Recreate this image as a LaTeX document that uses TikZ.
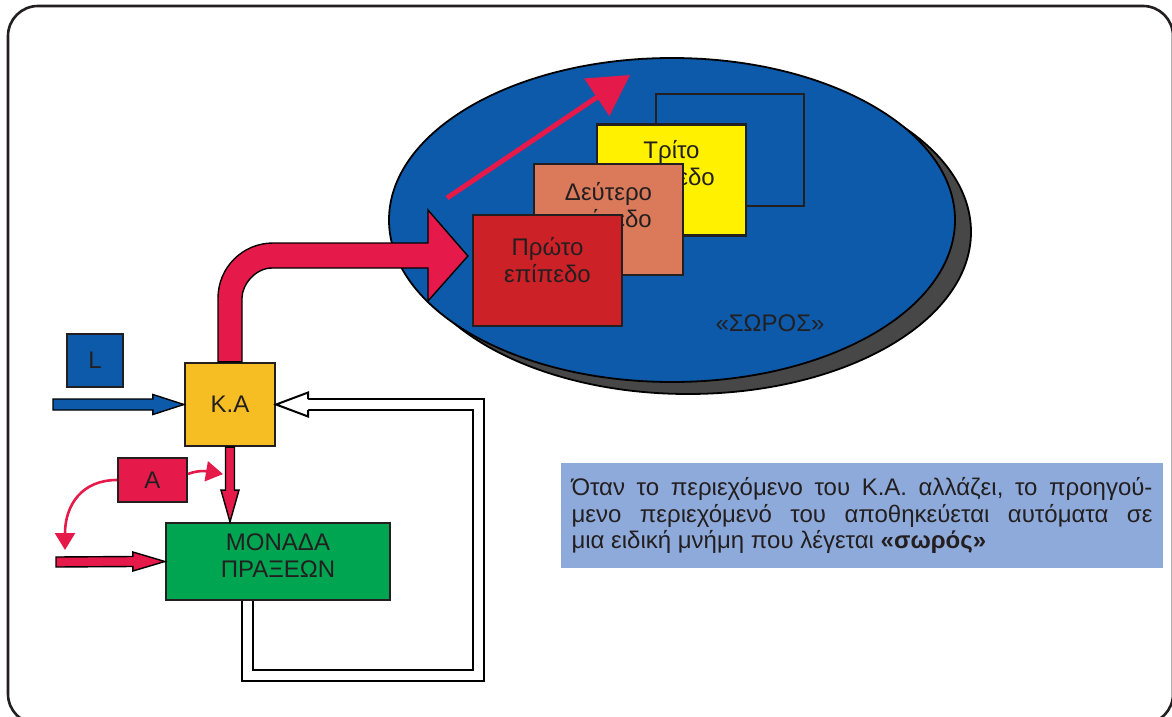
\documentclass[tikz,border=0pt]{standalone}
\usepackage{fontspec}
\setmainfont{Liberation Sans}
\usepackage{tikz}
\usetikzlibrary{arrows.meta,shapes.geometric,positioning,calc}

\definecolor{ink}{HTML}{231F20}
\definecolor{heapblue}{HTML}{0C5AA9}
\definecolor{heapgrey}{HTML}{474747}
\definecolor{lvlyellow}{HTML}{FFF100}
\definecolor{lvlsalmon}{HTML}{DB7A5A}
\definecolor{lvlred}{HTML}{CD2128}
\definecolor{crimson}{HTML}{E5194A}
\definecolor{regorange}{HTML}{F6BE22}
\definecolor{alugreen}{HTML}{00A551}
\definecolor{notebg}{HTML}{8EAADA}

\tikzset{
  txt/.style={font=\fontsize{24}{27}\selectfont, text=ink},
  unitbox/.style={rectangle, draw=ink, line width=2.2pt, inner sep=0pt, align=center, txt},
  lvlbox/.style={unitbox, minimum width=149pt, minimum height=111pt},
  lvltext/.style={txt, align=center},
  heap/.style={ellipse, draw=black, line width=1.8pt, fill=heapblue,
    minimum width=566pt, minimum height=324pt, inner sep=0pt},
  heapshade/.style={draw=black, line width=1.8pt, fill=heapgrey},
  fatarrow/.style={draw=black, line width=1.4pt, line join=miter},
  thinred/.style={draw=crimson, line width=2.6pt, -{Triangle[length=17pt,width=20pt]}},
  pusharrow/.style={draw=crimson, line width=5pt, -{Triangle[length=40pt,width=44pt]}},
  fbline/.style={draw=black, line width=2pt, double=white, double distance=9pt},
  fbhead/.style={draw=black, line width=2pt, fill=white, line join=miter},
  frame/.style={draw=ink, line width=2.6pt, rounded corners=30pt},
  notebox/.style={fill=notebg, minimum width=602pt, minimum height=105pt, inner sep=0pt}
}

\begin{document}
\begin{tikzpicture}[x=1pt,y=-1pt]
  \useasboundingbox (0,0) rectangle (1172,717);
  \draw[frame] (8,6) rectangle (1173,724);

  % Heap
  \draw[heapshade] (688,232) ellipse [x radius=283pt, y radius=162pt];
  \node[heap] (heap) at (672,220) {};
  \node[unitbox, fill=heapblue, minimum width=148pt, minimum height=112pt] (back) at (730,150) {};
  \node[lvlbox, fill=lvlyellow,
    label={[lvltext,yshift=17pt]center:{Τρίτο\\επίπεδο}}] (p3) at (671.5,180) {};
  \node[lvlbox, fill=lvlsalmon,
    label={[lvltext,yshift=14pt]center:{Δεύτερο\\επίπεδο}}] (p2) at (608.5,219.5) {};
  \node[lvlbox, fill=lvlred,
    label={[lvltext,yshift=10pt]center:{Πρώτο\\επίπεδο}}] (p1) at (547.5,270.5) {};
  \node[txt] (soros) at (770,323) {«ΣΩΡΟΣ»};

  \coordinate (pushfrom) at (447,198);
  \coordinate (pushto) at (630,75);
  \draw[pusharrow] (pushfrom) -- (pushto);

  % Registers and unit
  \node[unitbox, fill=regorange, minimum width=90pt, minimum height=83pt] (ka) at (230,404.5) {Κ.Α};
  \node[unitbox, fill=heapblue, minimum width=56pt, minimum height=53pt] (lreg) at (95,360.5) {L};
  \node[unitbox, fill=crimson, minimum width=69pt, minimum height=44pt] (areg) at (152.5,480) {Α};
  \node[unitbox, fill=alugreen, minimum width=224pt, minimum height=77pt,
    label={[lvltext,yshift=6pt]center:{ΜΟΝΑΔΑ\\ΠΡΑΞΕΩΝ}}] (alu) at (278,561.5) {};

  % K.A to first level
  \filldraw[fatarrow, fill=crimson] ($(ka.north)+(-12,0)$) -- (218,298)
    .. controls (218,267.6) and (242.6,243) .. (273,243)
    -- (428,243) -- (428,210) -- ($(p1.west)+(-4,-14.5)$) -- (428,301) -- (428,268)
    -- (272,268) .. controls (255.4,268) and (242,284.6) .. (242,298)
    -- ($(ka.north)+(12,0)$) -- cycle;

  % inputs
  \coordinate (lin) at (53,404.5);
  \filldraw[fatarrow, fill=heapblue] ($(lin)+(0,-5.5)$) -- ($(ka.west)+(-31,-5.5)$)
    -- ($(ka.west)+(-31,-10)$) -- (ka.west) -- ($(ka.west)+(-31,10)$)
    -- ($(ka.west)+(-31,5.5)$) -- ($(lin)+(0,5.5)$) -- cycle;
  \coordinate (opin) at (56,562);
  \filldraw[fatarrow, fill=crimson] ($(opin)+(0,-5)$) -- ($(alu.west)+(-32,-5)$)
    -- ($(alu.west)+(-32,-9.5)$) -- (alu.west) -- ($(alu.west)+(-32,9.5)$)
    -- ($(alu.west)+(-32,5)$) -- ($(opin)+(0,5)$) -- cycle;
  \filldraw[fatarrow, fill=crimson] ($(ka.south)+(-4.5,0)$) -- ($(ka.south)+(-4.5,43)$)
    -- ($(ka.south)+(-9,43)$) -- (ka.south |- alu.north) -- ($(ka.south)+(9,43)$)
    -- ($(ka.south)+(4.5,43)$) -- ($(ka.south)+(4.5,0)$) -- cycle;

  % A
  \coordinate (adrop) at (65,550);
  \coordinate (ajoin) at ($(ka.south)+(-7,27)$);
  \draw[thinred] (areg.west) .. controls +(-35,0) and +(0,-45) .. (adrop);
  \draw[thinred] ($(areg.east)+(0,-6)$) .. controls +(12,-5) and +(-12,-2) .. (ajoin);

  % feedback
  \draw[fbline] ($(alu.south)+(-31,0)$) |- (478,675) |- ($(ka.east)+(32,0)$);
  \filldraw[fbhead] ($(ka.east)+(32,-5.5)$) -- ($(ka.east)+(32,-12)$) -- (ka.east)
    -- ($(ka.east)+(32,12)$) -- ($(ka.east)+(32,5.5)$);

  % note
  \node[notebox, font=\fontsize{24}{26.5}\selectfont, text=ink, text width=581pt,
    align=justify] (note) at (862,515.5)
    {\frenchspacing Όταν το περιεχόμενο του Κ.Α. αλλάζει, το προηγού-\linebreak
     μενο περιεχόμενό του αποθηκεύεται αυτόματα σε\linebreak
     μια ειδική μνήμη που λέγεται \textbf{«σωρός»}};
\end{tikzpicture}
\end{document}
